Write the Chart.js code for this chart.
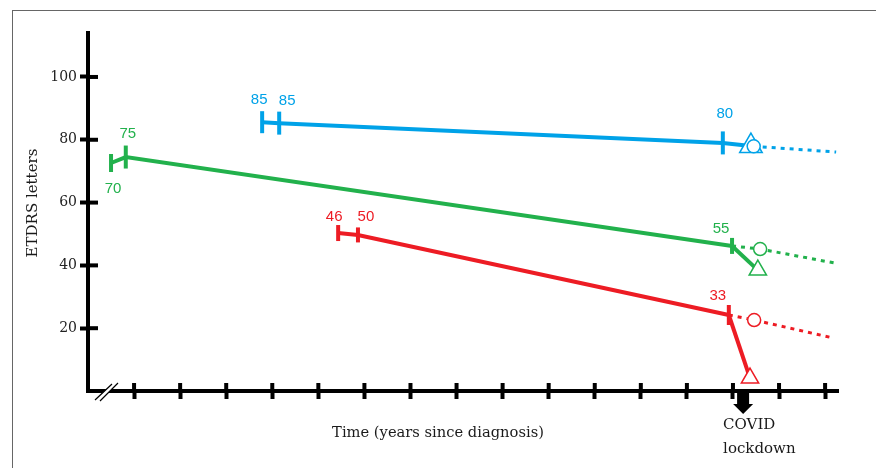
<!DOCTYPE html>
<html lang="en">
<head>
  <meta charset="UTF-8" />
  <title>ETDRS letters before and after COVID lockdown</title>
  <script src="https://cdn.jsdelivr.net/npm/chart.js@4.4.0/dist/chart.umd.min.js"></script>
  <style>
    html, body { margin: 0; padding: 0; background: #fff; overflow: hidden; }
    #wrap { position: relative; width: 876px; height: 468px; }
    #wrap canvas { position: absolute; left: 0; top: 0; }
    /* grey frame round the figure, open at right and bottom */
    #frame {
      position: absolute; left: 12px; top: 10px; width: 900px; height: 500px;
      border-left: 1px solid #666; border-top: 1px solid #666;
    }
  </style>
</head>
<body>
  <div id="wrap">
    <div id="frame"></div>
    <canvas id="etdrs" width="876" height="468"></canvas>
  </div>

  <script>
    // schematic: x = years since diagnosis (one tick per year), y = ETDRS letters
    const yearTicks = [1, 2, 3, 4, 5, 6, 7, 8, 9, 10, 11, 12, 13, 14, 15, 16];
    const letterTicks = [20, 40, 60, 80, 100];
    const covidYear = 14.22;

    // blue eye: two baseline visits, last visit before lockdown
    const blueX = [3.78, 4.15, 13.78];
    const blueY = [85.6, 85.3, 79.0];
    const blueText = ['85', '85', '80'];
    const blueAfterX = [13.78, 14.39];   // seen after lockdown (triangle)
    const blueAfterY = [79.0, 78.0];
    const blueTrendX = [14.45, 16.24];   // expected without delay (circle, dotted)
    const blueTrendY = [77.9, 76.1];

    // green eye
    const greenX = [0.50, 0.82, 13.98];
    const greenY = [72.6, 74.5, 46.2];
    const greenText = ['70', '75', '55'];
    const greenAfterX = [13.98, 14.54];
    const greenAfterY = [46.2, 38.5];
    const greenTrendX = [13.98, 14.59, 16.19];
    const greenTrendY = [46.2, 45.2, 40.8];

    // red eye
    const redX = [5.43, 5.86, 13.91];
    const redY = [50.3, 49.7, 24.2];
    const redText = ['46', '50', '33'];
    const redAfterX = [13.91, 14.37];
    const redAfterY = [24.2, 4.1];
    const redTrendX = [13.91, 14.46, 16.17];
    const redTrendY = [24.2, 22.6, 16.9];

    const BLUE = '#00a2e8';
    const GREEN = '#22b14c';
    const RED = '#ed1c24';
    const SERIF = '"DejaVu Serif", "Liberation Serif", serif';

    function pts(xs, ys) {
      return xs.map((x, i) => ({ x: x, y: ys[i] }));
    }

    // solid course with vertical bars at the visits
    function visits(xs, ys, color, radii) {
      return {
        data: pts(xs, ys),
        showLine: true,
        borderColor: color,
        borderWidth: 4,
        pointStyle: 'line',
        rotation: 90,
        pointRadius: radii,
        pointBorderWidth: 4,
        pointBorderColor: color
      };
    }

    function after(xs, ys, color, size) {
      return {
        data: pts(xs, ys),
        showLine: true,
        borderColor: color,
        borderWidth: 4,
        pointStyle: 'triangle',
        pointRadius: [0, size],
        pointBorderWidth: 1.5,
        pointBorderColor: color,
        pointBackgroundColor: '#fff'
      };
    }

    function trend(xs, ys, color) {
      const r = xs.map((_, i) => (i === xs.length - 2 || (xs.length === 2 && i === 0)) ? 6.5 : 0);
      return {
        data: pts(xs, ys),
        showLine: true,
        borderColor: color,
        borderWidth: 3,
        borderDash: [4, 5],
        pointStyle: 'circle',
        pointRadius: r,
        pointBorderWidth: 1.5,
        pointBorderColor: color,
        pointBackgroundColor: '#fff'
      };
    }

    // value labels, offset from their bar in px
    const labelSets = [
      { xs: blueX, ys: blueY, text: blueText, color: BLUE, dx: [-3, 8, 2], dy: [-22, -22, -29] },
      { xs: greenX, ys: greenY, text: greenText, color: GREEN, dx: [2, 2, -11], dy: [26, -23, -17] },
      { xs: redX, ys: redY, text: redText, color: RED, dx: [-4, 8, -11], dy: [-16, -18, -19] }
    ];

    const schematic = {
      id: 'schematic',
      beforeDatasetsDraw(chart) {
        const c = chart.ctx, a = chart.chartArea;
        const sx = chart.scales.x, sy = chart.scales.y;
        c.save();
        c.strokeStyle = '#000';
        c.lineWidth = 4;
        // inner half of the cross ticks
        letterTicks.forEach(v => {
          const y = sy.getPixelForValue(v);
          c.beginPath(); c.moveTo(a.left, y); c.lineTo(a.left + 10, y); c.stroke();
        });
        yearTicks.forEach(v => {
          const x = sx.getPixelForValue(v);
          c.beginPath(); c.moveTo(x, a.bottom); c.lineTo(x, a.bottom - 8); c.stroke();
        });
        // axis break
        c.fillStyle = '#fff';
        c.beginPath();
        c.moveTo(a.left + 7, a.bottom + 9); c.lineTo(a.left + 24, a.bottom - 7);
        c.lineTo(a.left + 30, a.bottom - 8); c.lineTo(a.left + 12, a.bottom + 10);
        c.closePath(); c.fill();
        c.lineWidth = 1.2;
        c.beginPath();
        c.moveTo(a.left + 7, a.bottom + 9); c.lineTo(a.left + 24, a.bottom - 7);
        c.moveTo(a.left + 12, a.bottom + 10); c.lineTo(a.left + 30, a.bottom - 8);
        c.stroke();
        c.restore();
      },
      afterDatasetsDraw(chart) {
        const c = chart.ctx, a = chart.chartArea;
        const sx = chart.scales.x, sy = chart.scales.y;
        c.save();
        c.font = '15px "Liberation Sans", Arial, sans-serif';
        c.textAlign = 'center';
        c.textBaseline = 'middle';
        labelSets.forEach(s => {
          c.fillStyle = s.color;
          s.text.forEach((t, i) => {
            c.fillText(t, sx.getPixelForValue(s.xs[i]) + s.dx[i], sy.getPixelForValue(s.ys[i]) + s.dy[i]);
          });
        });

        // COVID lockdown arrow
        const cx = sx.getPixelForValue(covidYear);
        c.fillStyle = '#000';
        c.fillRect(cx - 6, a.bottom + 2, 12, 12);
        c.beginPath();
        c.moveTo(cx - 10, a.bottom + 13); c.lineTo(cx + 10, a.bottom + 13); c.lineTo(cx, a.bottom + 23);
        c.closePath(); c.fill();
        c.fillStyle = '#1a1a1a';
        c.font = '15px ' + SERIF;
        c.textAlign = 'left';
        c.textBaseline = 'alphabetic';
        c.fillText('COVID', cx - 20, a.bottom + 38);
        c.fillText('lockdown', cx - 20, a.bottom + 62);

        // axis titles
        c.font = '14.7px ' + SERIF;
        c.textAlign = 'center';
        c.fillText('Time (years since diagnosis)', a.left + 350, a.bottom + 46);
        c.font = '15px ' + SERIF;
        c.translate(a.left - 55, a.top + 170);
        c.rotate(-Math.PI / 2);
        c.textBaseline = 'middle';
        c.fillText('ETDRS letters', 0, 0);
        c.restore();
      }
    };

    new Chart(document.getElementById('etdrs'), {
      type: 'scatter',
      data: {
        datasets: [
          trend(blueTrendX, blueTrendY, BLUE),
          after(blueAfterX, blueAfterY, BLUE, 13),
          visits(blueX, blueY, BLUE, [11, 11.5, 11.5]),
          trend(greenTrendX, greenTrendY, GREEN),
          after(greenAfterX, greenAfterY, GREEN, 10),
          visits(greenX, greenY, GREEN, [9, 11.5, 8]),
          trend(redTrendX, redTrendY, RED),
          after(redAfterX, redAfterY, RED, 10),
          visits(redX, redY, RED, [8, 7.5, 10])
        ]
      },
      options: {
        responsive: false,
        animation: false,
        layout: { padding: { left: 12, right: 38, top: 33, bottom: 0 } },
        plugins: { legend: { display: false }, tooltip: { enabled: false } },
        scales: {
          x: {
            type: 'linear',
            min: 0,
            max: 16.28,
            afterBuildTicks: s => { s.ticks = yearTicks.map(v => ({ value: v })); },
            afterFit: s => { s.height = 77; },
            ticks: { display: false },
            grid: { drawOnChartArea: false, tickLength: 8, tickWidth: 4, tickColor: '#000' },
            border: { color: '#000', width: 4 }
          },
          y: {
            min: 0,
            max: 114,
            afterBuildTicks: s => { s.ticks = letterTicks.map(v => ({ value: v })); },
            afterFit: s => { s.width = 76; },
            ticks: { color: '#222', font: { family: SERIF, size: 14 }, padding: 3 },
            grid: { drawOnChartArea: false, tickLength: 8, tickWidth: 4, tickColor: '#000' },
            border: { color: '#000', width: 4 }
          }
        }
      },
      plugins: [schematic]
    });
  </script>
</body>
</html>
